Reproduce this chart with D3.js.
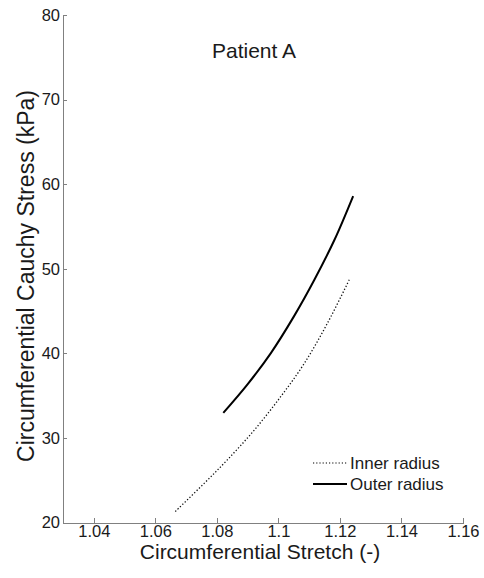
<!DOCTYPE html>
<html lang="en">
<head>
    <meta charset="UTF-8">
    <title>Patient A</title>
    <style>
        body {
            margin: 0;
            background-color: #ffffff;
            font-family: "Liberation Sans", Arial, sans-serif;
        }
        svg {
            display: block;
        }
        .axis path,
        .axis line {
            fill: none;
            stroke: #808080;
            shape-rendering: crispEdges;
        }
        .axis text {
            fill: #1a1a1a;
            font-size: 16.5px;
            font-family: "Liberation Sans", Arial, sans-serif;
        }
    </style>
</head>
<body>
<script src="https://d3js.org/d3.v7.min.js"></script>
<script>
    // stretch / stress values
    var innerStretch = [1.0665, 1.0758, 1.0834, 1.0921, 1.1008, 1.1084, 1.1160, 1.1233];
    var innerStress  = [21.3, 24.6, 27.4, 30.9, 34.9, 38.8, 43.6, 48.9];
    var outerStretch = [1.0821, 1.0899, 1.0975, 1.1051, 1.1117, 1.1182, 1.1243];
    var outerStress  = [32.96, 36.3, 40.0, 44.4, 48.7, 53.4, 58.6];

    var xTicks = [1.04, 1.06, 1.08, 1.1, 1.12, 1.14, 1.16];
    var yTicks = [20, 30, 40, 50, 60, 70, 80];
    var legendLabels = ["Inner radius", "Outer radius"];

    var width = 484, height = 578;
    var margin = {top: 15, right: 21, bottom: 55.5, left: 63};

    var svg = d3.select("body").append("svg")
        .attr("width", width)
        .attr("height", height);

    var xScale = d3.scaleLinear()
        .domain([1.03, 1.16])
        .range([margin.left, width - margin.right]);

    var yScale = d3.scaleLinear()
        .domain([20, 80])
        .range([height - margin.bottom, margin.top]);

    // axes, matlab style: ticks pointing inward
    svg.append("g")
        .attr("class", "axis")
        .attr("transform", "translate(0," + yScale(20) + ")")
        .call(d3.axisBottom(xScale).tickValues(xTicks).tickSizeInner(-5).tickSizeOuter(0).tickPadding(3)
            .tickFormat(d3.format("")));

    svg.append("g")
        .attr("class", "axis")
        .attr("transform", "translate(" + xScale(1.03) + ",0)")
        .call(d3.axisLeft(yScale).tickValues(yTicks).tickSizeInner(-4).tickSizeOuter(0).tickPadding(3));

    // curves
    var line = d3.line()
        .x(function(d) { return xScale(d[0]); })
        .y(function(d) { return yScale(d[1]); })
        .curve(d3.curveCatmullRom);

    var innerData = innerStretch.map(function(s, i) { return [s, innerStress[i]]; });
    var outerData = outerStretch.map(function(s, i) { return [s, outerStress[i]]; });

    svg.append("path")
        .datum(innerData)
        .attr("fill", "none")
        .attr("stroke", "#111")
        .attr("stroke-width", 1.3)
        .attr("stroke-dasharray", "1.3,2")
        .attr("d", line);

    svg.append("path")
        .datum(outerData)
        .attr("fill", "none")
        .attr("stroke", "#000")
        .attr("stroke-width", 2)
        .attr("d", line);

    // title and axis labels
    svg.append("text")
        .attr("x", 254)
        .attr("y", 58)
        .attr("text-anchor", "middle")
        .attr("font-size", 21)
        .attr("fill", "#1a1a1a")
        .text("Patient A");

    svg.append("text")
        .attr("x", 260)
        .attr("y", 559)
        .attr("text-anchor", "middle")
        .attr("font-size", 21)
        .attr("fill", "#1a1a1a")
        .text("Circumferential Stretch (-)");

    svg.append("text")
        .attr("transform", "translate(34,276) rotate(-90)")
        .attr("text-anchor", "middle")
        .attr("font-size", 23)
        .attr("fill", "#1a1a1a")
        .text("Circumferential Cauchy Stress (kPa)");

    // legend
    var legend = svg.append("g").attr("transform", "translate(313,463)");
    legendLabels.forEach(function(label, i) {
        var row = legend.append("g").attr("transform", "translate(0," + (i * 21) + ")");
        row.append("line")
            .attr("x1", 0).attr("x2", 34)
            .attr("y1", 0).attr("y2", 0)
            .attr("stroke", "#000")
            .attr("stroke-width", i === 0 ? 1.2 : 2)
            .attr("stroke-dasharray", i === 0 ? "1.2,2" : null);
        row.append("text")
            .attr("x", 37)
            .attr("y", 6)
            .attr("font-size", 17)
            .attr("fill", "#1a1a1a")
            .text(label);
    });
</script>
</body>
</html>
